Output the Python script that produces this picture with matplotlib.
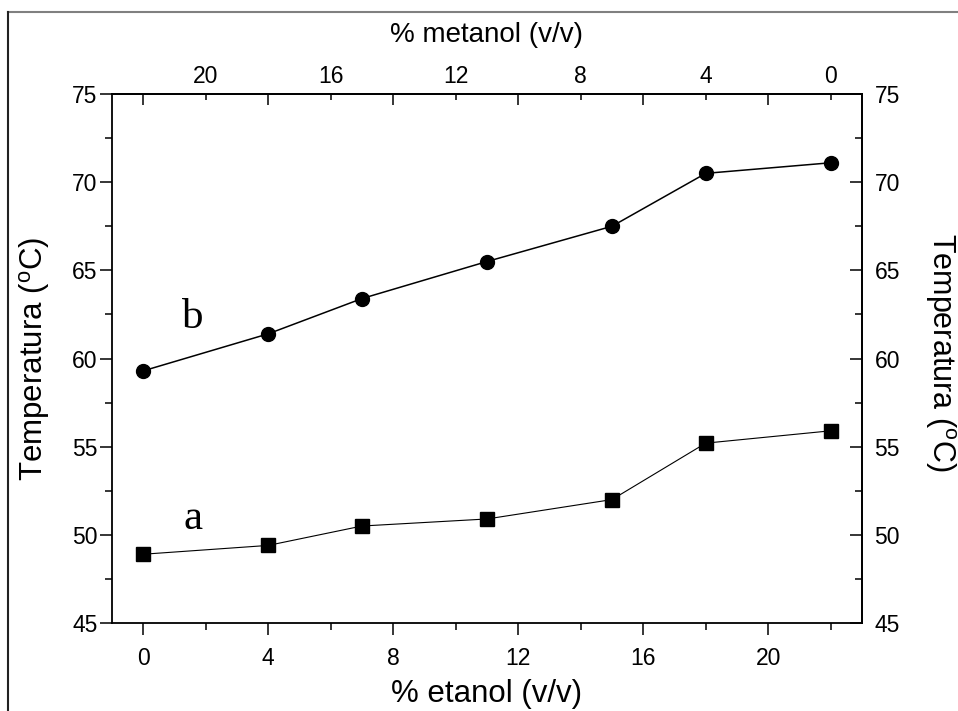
import numpy as np
import matplotlib
matplotlib.use("Agg")
import matplotlib.pyplot as plt
from matplotlib.lines import Line2D

plt.rcParams['font.family'] = ['Liberation Sans', 'DejaVu Sans']
plt.rcParams['mathtext.fontset'] = 'custom'
plt.rcParams['mathtext.rm'] = 'Liberation Sans'

# data
etanol = [0, 4, 7, 11, 15, 18, 22]
temp_a = [48.9, 49.4, 50.5, 50.9, 52.0, 55.2, 55.9]
temp_b = [59.3, 61.4, 63.4, 65.5, 67.5, 70.5, 71.1]
x_ticks = [0, 4, 8, 12, 16, 20]
top_ticks = [20, 16, 12, 8, 4, 0]
top_minor = [22, 18, 14, 10, 6, 2]
y_ticks = [45, 50, 55, 60, 65, 70, 75]

W, H = 958, 711
fig = plt.figure(figsize=(W / 100, H / 100), dpi=100)
ax = fig.add_axes([112 / W, (H - 623) / H, (862 - 112) / W, (623 - 94) / H])

ax.plot(etanol, temp_a, 'k-', lw=0.8, marker='s', ms=10, zorder=5)
ax.plot(etanol, temp_b, 'k-', lw=1.1, marker='o', ms=10, zorder=5)

ax.text(1.6, 62.3, 'b', family='Liberation Serif', fontsize=31, ha='center', va='center')
ax.text(1.6, 50.9, 'a', family='Liberation Serif', fontsize=31, ha='center', va='center')

ax.set_xlim(-1, 23)
ax.set_ylim(45, 75)

for s in ax.spines.values():
    s.set_linewidth(1.3)

# bottom / left: ticks outward
ax.set_xticks(x_ticks)
ax.set_xticks(np.arange(2, 23, 4), minor=True)
ax.set_yticks(y_ticks)
ax.set_yticks(np.arange(47.5, 75, 5), minor=True)
ax.tick_params(axis='x', which='major', direction='out', length=8.5, width=1.1,
               labelsize=16.5, pad=9)
ax.tick_params(axis='x', which='minor', direction='out', length=5, width=1.1)
ax.tick_params(axis='y', which='major', direction='out', length=8.5, width=1.1,
               labelsize=16.5, pad=2)
ax.tick_params(axis='y', which='minor', direction='out', length=5, width=1.1)

ax.set_xlabel('% etanol (v/v)', fontsize=22.5, labelpad=6)
ax.set_ylabel(r'Temperatura ($^{\rm o}$C)', fontsize=22.5, labelpad=14)

# top axis: metanol = 22 - etanol, ticks inward
top = ax.secondary_xaxis('top', functions=(lambda x: 22 - x, lambda x: 22 - x))
top.set_xticks(top_ticks)
top.set_xticks(top_minor, minor=True)
top.tick_params(which='major', direction='in', length=4.5, width=1.1, labelsize=16.5, pad=4)
top.tick_params(which='minor', direction='in', length=8, width=1.1)
top.set_xlabel('% metanol (v/v)', fontsize=20, labelpad=17)
top.spines['top'].set_linewidth(1.3)

# right axis: ticks inward
right = ax.secondary_yaxis('right')
right.set_yticks(y_ticks)
right.set_yticks(np.arange(47.5, 75, 5), minor=True)
right.tick_params(which='major', direction='in', length=8.5, width=1.1, labelsize=16.5, pad=9)
right.tick_params(which='minor', direction='in', length=5, width=1.1)
right.spines['right'].set_linewidth(1.3)
fig.text(940 / W, 1 - 352 / H, r'Temperatura ($^{\rm o}$C)', fontsize=22,
         rotation=270, ha='center', va='center')

# frame around the figure (top and left edges visible)
fig.add_artist(Line2D([8 / W, 1], [1 - 12 / H, 1 - 12 / H], color='#808080', lw=1.5))
fig.add_artist(Line2D([8 / W, 8 / W], [0, 1 - 12 / H], color='#222222', lw=1.5))

fig.savefig('out.png', dpi=100)
